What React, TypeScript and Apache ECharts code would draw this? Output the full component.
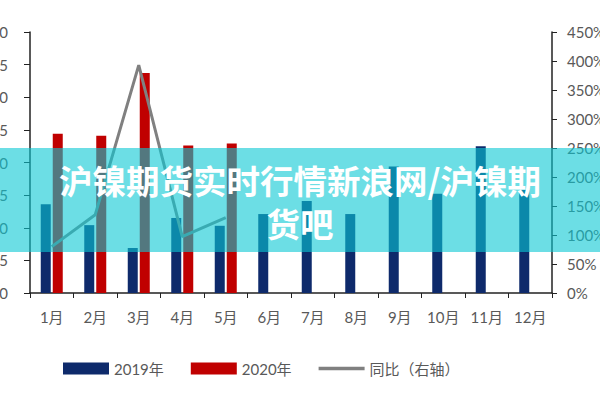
import React, { useEffect, useRef } from "react";
import * as echarts from "echarts";

// Monthly nickel volumes and year-on-year change
const months = ["1月", "2月", "3月", "4月", "5月", "6月", "7月", "8月", "9月", "10月", "11月", "12月"];
const vol2019 = [13.6, 10.4, 6.9, 11.5, 10.3, 12.1, 14.1, 12.1, 19.4, 15.2, 22.5, 15.8];
const vol2020 = [24.4, 24.1, 33.7, 22.6, 22.9];
const yoyPct = [80, 135, 393, 97, 130];

const titleText = "沪镍期货实时行情新浪网/沪镍期\n货吧";

const labelFont = "Lato, 'Noto Sans CJK SC', sans-serif";
const labelColor = "#595959";

export default function App() {
  const ref = useRef<HTMLDivElement>(null);

  useEffect(() => {
    if (!ref.current) return;
    const chart = echarts.init(ref.current, undefined, { renderer: "svg" });
    chart.setOption({
      animation: false,
      backgroundColor: "#ffffff",
      graphic: [
        {
          type: "rect",
          z: 50,
          shape: { x: 0, y: 148, width: 600, height: 104 },
          style: { fill: "rgba(10,200,212,0.6)" },
        },
        {
          type: "text",
          z: 60,
          x: 300,
          y: 158,
          style: {
            text: titleText,
            textAlign: "center",
            fill: "#ffffff",
            fontSize: 33.5,
            fontWeight: "bold",
            lineHeight: 43,
            fontFamily: "'Noto Sans CJK SC', sans-serif",
          },
        },
      ],
      legend: {
        left: 58,
        top: 356,
        itemWidth: 46,
        itemHeight: 12,
        itemGap: 27,
        textStyle: { color: labelColor, fontSize: 15, fontFamily: labelFont },
        data: [
          { name: "2019年", icon: "rect" },
          { name: "2020年", icon: "rect" },
          {
            name: "同比（右轴）",
            icon: "path://M0,0 H46 V3.5 H0 Z",
            itemStyle: { color: "#808080" },
          },
        ],
      },
      grid: { left: 30, right: 48, top: 32, bottom: 107, outerBoundsMode: "none" },
      xAxis: {
        type: "category",
        data: months,
        axisLine: { lineStyle: { color: "#222222", width: 1.5 } },
        axisTick: { show: true, length: 5, lineStyle: { color: "#222222" } },
        axisLabel: { color: labelColor, fontSize: 15, fontFamily: labelFont, margin: 16 },
      },
      yAxis: [
        {
          type: "value",
          min: 0,
          max: 40,
          interval: 5,
          splitLine: { show: false },
          axisLine: { show: true, lineStyle: { color: "#222222", width: 1.5 } },
          axisTick: { show: true, length: 6, lineStyle: { color: "#222222" } },
          axisLabel: { color: labelColor, fontSize: 15, fontFamily: labelFont, margin: 22 },
        },
        {
          type: "value",
          min: 0,
          max: 450,
          interval: 50,
          splitLine: { show: false },
          axisLine: { show: true, lineStyle: { color: "#222222", width: 1.5 } },
          axisTick: { show: true, length: 5, lineStyle: { color: "#222222" } },
          axisLabel: {
            color: labelColor,
            fontSize: 15,
            fontFamily: labelFont,
            margin: 15,
            formatter: "{value}%",
          },
        },
      ],
      series: [
        {
          name: "2019年",
          type: "bar",
          data: vol2019,
          barWidth: 10,
          barGap: "20%",
          itemStyle: { color: "#0E2A6B" },
        },
        {
          name: "2020年",
          type: "bar",
          data: vol2020,
          barWidth: 10,
          barGap: "20%",
          itemStyle: { color: "#C00000" },
        },
        {
          name: "同比（右轴）",
          type: "line",
          yAxisIndex: 1,
          data: yoyPct,
          symbol: "none",
          lineStyle: { color: "#808080", width: 3 },
          itemStyle: { color: "#808080" },
        },
      ],
    });
    return () => chart.dispose();
  }, []);

  return (
    <div
      ref={ref}
      style={{ position: "fixed", left: 0, top: 0, width: 600, height: 400 }}
    />
  );
}
